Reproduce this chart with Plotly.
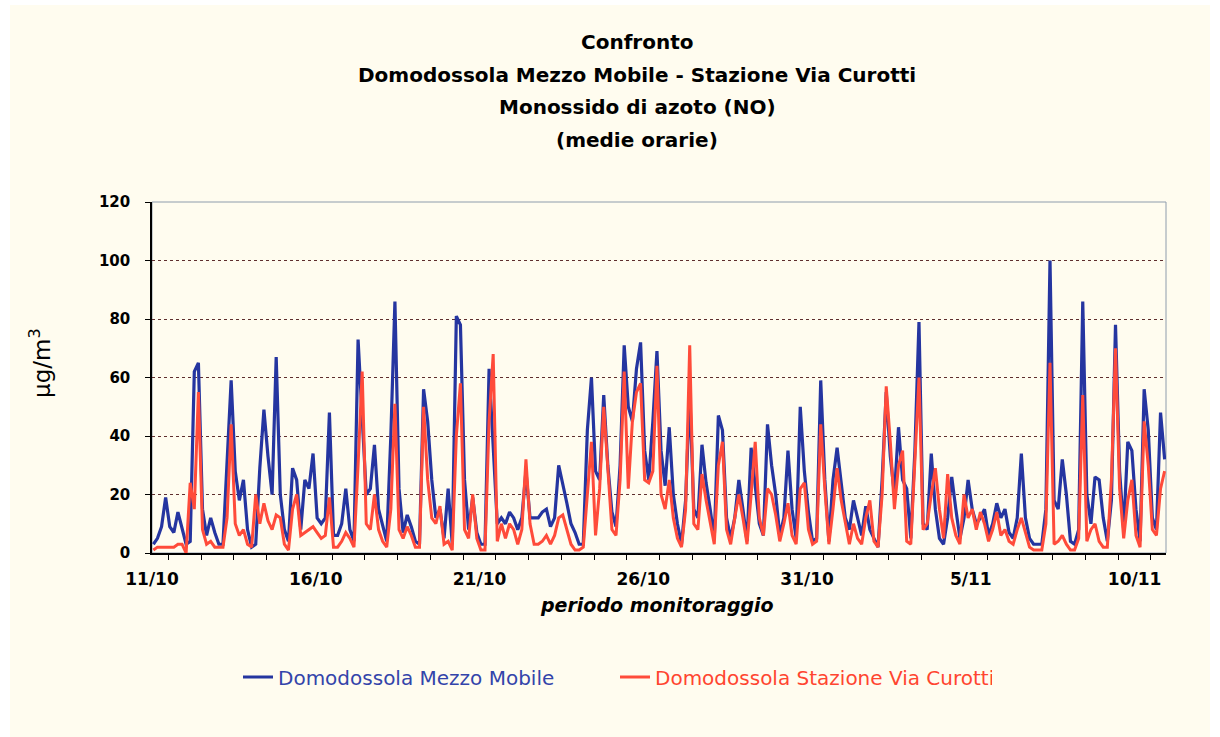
import plotly.graph_objects as go

tick_labels = ["11/10", "16/10", "21/10", "26/10", "31/10", "5/11", "10/11"]
tick_hours = [0, 120, 240, 360, 480, 600, 720]

mezzo_mobile = [
    3, 5, 9, 19, 9, 7, 14, 8,        # 11/10
    3, 4, 62, 65, 15, 6, 12, 7,      # 12/10
    3, 3, 30, 59, 28, 18, 25, 8,     # 13/10
    2, 3, 29, 49, 33, 20, 67, 20,    # 14/10
    8, 4, 29, 25, 8, 25, 22, 34,     # 15/10
    12, 10, 12, 48, 6, 6, 10, 22,    # 16/10
    8, 4, 73, 44, 20, 22, 37, 15,    # 17/10
    10, 4, 40, 86, 22, 7, 13, 9,     # 18/10
    4, 3, 56, 45, 25, 12, 15, 5,     # 19/10
    22, 3, 81, 78, 25, 8, 19, 7,     # 20/10
    3, 3, 63, 35, 10, 12, 10, 14,    # 21/10
    12, 8, 12, 28, 12, 12, 12, 14,   # 22/10
    15, 9, 12, 30, 24, 17, 10, 7,    # 23/10
    3, 3, 42, 60, 28, 25, 54, 30,    # 24/10
    14, 9, 30, 71, 50, 45, 63, 72,   # 25/10
    35, 25, 45, 69, 35, 23, 43, 20,  # 26/10
    10, 3, 18, 55, 15, 12, 37, 24,   # 27/10
    15, 5, 47, 42, 12, 5, 12, 25,    # 28/10
    15, 4, 36, 22, 10, 6, 44, 30,    # 29/10
    20, 6, 12, 35, 15, 5, 50, 28,    # 30/10
    14, 4, 5, 59, 25, 4, 25, 36,     # 31/10
    25, 12, 8, 18, 12, 6, 16, 8,     # 1/11
    5, 2, 25, 55, 33, 20, 43, 25,    # 2/11
    22, 5, 35, 79, 10, 8, 34, 15,    # 3/11
    5, 3, 12, 26, 15, 5, 12, 25,     # 4/11
    15, 10, 12, 15, 6, 10, 17, 12,   # 5/11
    15, 7, 5, 12, 34, 12, 5, 3,      # 6/11
    3, 3, 15, 100, 18, 15, 32, 20,   # 7/11
    4, 3, 8, 86, 20, 10, 26, 25,     # 8/11
    12, 4, 18, 78, 28, 8, 38, 35,    # 9/11
    15, 4, 56, 42, 12, 8, 48, 32,    # 10/11
]

via_curotti = [
    1, 2, 2, 2, 2, 2, 3, 3,          # 11/10
    0, 24, 15, 55, 8, 3, 4, 2,       # 12/10
    2, 2, 12, 44, 10, 6, 8, 3,       # 13/10
    2, 20, 10, 17, 11, 8, 13, 12,    # 14/10
    3, 1, 15, 20, 6, 7, 8, 9,        # 15/10
    7, 5, 6, 19, 2, 2, 4, 7,         # 16/10
    5, 2, 30, 62, 10, 8, 20, 8,      # 17/10
    4, 2, 15, 51, 8, 5, 9, 6,        # 18/10
    2, 2, 50, 25, 12, 10, 16, 3,     # 19/10
    4, 1, 40, 58, 8, 5, 20, 5,       # 20/10
    1, 1, 45, 68, 4, 10, 5, 10,      # 21/10
    8, 3, 8, 32, 10, 3, 3, 4,        # 22/10
    6, 3, 6, 12, 13, 8, 3, 1,        # 23/10
    1, 2, 20, 38, 6, 22, 50, 28,     # 24/10
    8, 6, 25, 62, 22, 45, 55, 58,    # 25/10
    25, 24, 28, 64, 20, 15, 25, 12,  # 26/10
    5, 2, 15, 71, 10, 8, 27, 18,     # 27/10
    10, 3, 30, 38, 8, 3, 12, 20,     # 28/10
    12, 3, 20, 38, 12, 6, 22, 20,    # 29/10
    13, 4, 10, 17, 6, 3, 22, 24,     # 30/10
    8, 3, 4, 44, 22, 3, 15, 29,      # 31/10
    18, 10, 3, 10, 5, 3, 12, 18,     # 1/11
    4, 2, 20, 57, 38, 15, 30, 35,    # 2/11
    4, 3, 30, 60, 8, 10, 20, 29,     # 3/11
    15, 5, 27, 12, 6, 3, 20, 12,     # 4/11
    15, 8, 14, 10, 4, 8, 14, 6,      # 5/11
    8, 4, 3, 8, 12, 7, 2, 1,         # 6/11
    1, 1, 10, 65, 3, 4, 6, 3,        # 7/11
    1, 1, 5, 54, 4, 8, 10, 4,        # 8/11
    2, 2, 25, 70, 22, 5, 18, 25,     # 9/11
    6, 2, 45, 30, 8, 6, 22, 28,      # 10/11
]

hours = [3 * k + 1 for k in range(len(mezzo_mobile))]

# ---- styling ----
CREAM = "#FFFCEF"
BLUE = "#2535A0"
RED = "#FF4B3A"
FONT = "DejaVu Sans"

W, H = 1220, 737
L, R, T, B = 152, 54, 202, 184
PW, PH = W - L - R, H - T - B


def px(xp):
    return (xp - L) / PW


def py(yp):
    return (H - B - yp) / PH


fig = go.Figure()
fig.add_trace(go.Scatter(
    x=hours, y=mezzo_mobile, mode="lines",
    name="<span style='color:#3344AA'>Domodossola Mezzo Mobile</span>",
    line=dict(color=BLUE, width=3.2),
))
fig.add_trace(go.Scatter(
    x=hours, y=via_curotti, mode="lines",
    name="<span style='color:#FF4530'>Domodossola Stazione Via Curotti</span>",
    line=dict(color=RED, width=3),
))

title_lines = [
    "Confronto",
    "Domodossola Mezzo Mobile - Stazione Via Curotti",
    "Monossido di azoto (NO)",
    "(medie orarie)",
]
title_y = [42, 75, 107, 140]
annotations = []
for txt, yy in zip(title_lines, title_y):
    annotations.append(dict(
        text=f"<b>{txt}</b>", x=px(637), y=py(yy), xref="paper", yref="paper",
        showarrow=False, xanchor="center", yanchor="middle",
        font=dict(family=FONT, size=20, color="black"),
    ))
annotations.append(dict(
    text="μg/m<sup>3</sup>", x=px(40), y=py(363), xref="paper", yref="paper",
    showarrow=False, textangle=-90, xanchor="center", yanchor="middle",
    font=dict(family=FONT, size=23, color="black"),
))
annotations.append(dict(
    text="<b><i>periodo monitoraggio</i></b>", x=px(657), y=py(605),
    xref="paper", yref="paper", showarrow=False,
    xanchor="center", yanchor="middle",
    font=dict(family=FONT, size=19, color="black"),
))

shapes = [
    dict(type="rect", xref="paper", yref="paper",
         x0=px(10), x1=px(1210), y0=py(737), y1=py(5),
         fillcolor=CREAM, line=dict(width=0), layer="below"),
    dict(type="rect", xref="paper", yref="paper",
         x0=0, x1=1, y0=0, y1=1,
         line=dict(color="#8E9CAC", width=1), layer="below"),
]

fig.update_layout(
    width=W, height=H,
    margin=dict(l=L, r=R, t=T, b=B, pad=0),
    paper_bgcolor="white",
    plot_bgcolor=CREAM,
    font=dict(family=FONT, color="black"),
    showlegend=True,
    legend=dict(
        orientation="h", x=px(238), xanchor="left", y=py(677), yanchor="middle",
        bgcolor="rgba(0,0,0,0)", font=dict(family=FONT, size=20),
        entrywidth=332, entrywidthmode="pixels", itemwidth=30,
    ),
    annotations=annotations,
    shapes=shapes,
    xaxis=dict(
        range=[0, 743], tickmode="array", tickvals=tick_hours, ticktext=tick_labels,
        ticks="", showgrid=False, zeroline=False,
        showline=True, linecolor="black", linewidth=1.5,
        tickfont=dict(family=FONT, size=17, color="black", weight="bold"),
        ticklabelstandoff=10,
        minor=dict(ticks="outside", ticklen=5, tickcolor="black", tickwidth=1,
                   tickmode="linear", tick0=12, dtick=24, showgrid=False),
    ),
    yaxis=dict(
        range=[0, 120], tickmode="linear", tick0=0, dtick=20,
        ticks="outside", ticklen=5, tickcolor="black",
        showgrid=True, gridcolor="#5E2E2E", griddash="dot", gridwidth=1,
        zeroline=False, showline=True, linecolor="black", linewidth=1.5,
        tickfont=dict(family=FONT, size=15, color="black", weight="bold"),
        ticklabelstandoff=12,
    ),
)

fig.write_html("out.html", config={"displayModeBar": False},
               post_script="document.body.style.margin='0';")
